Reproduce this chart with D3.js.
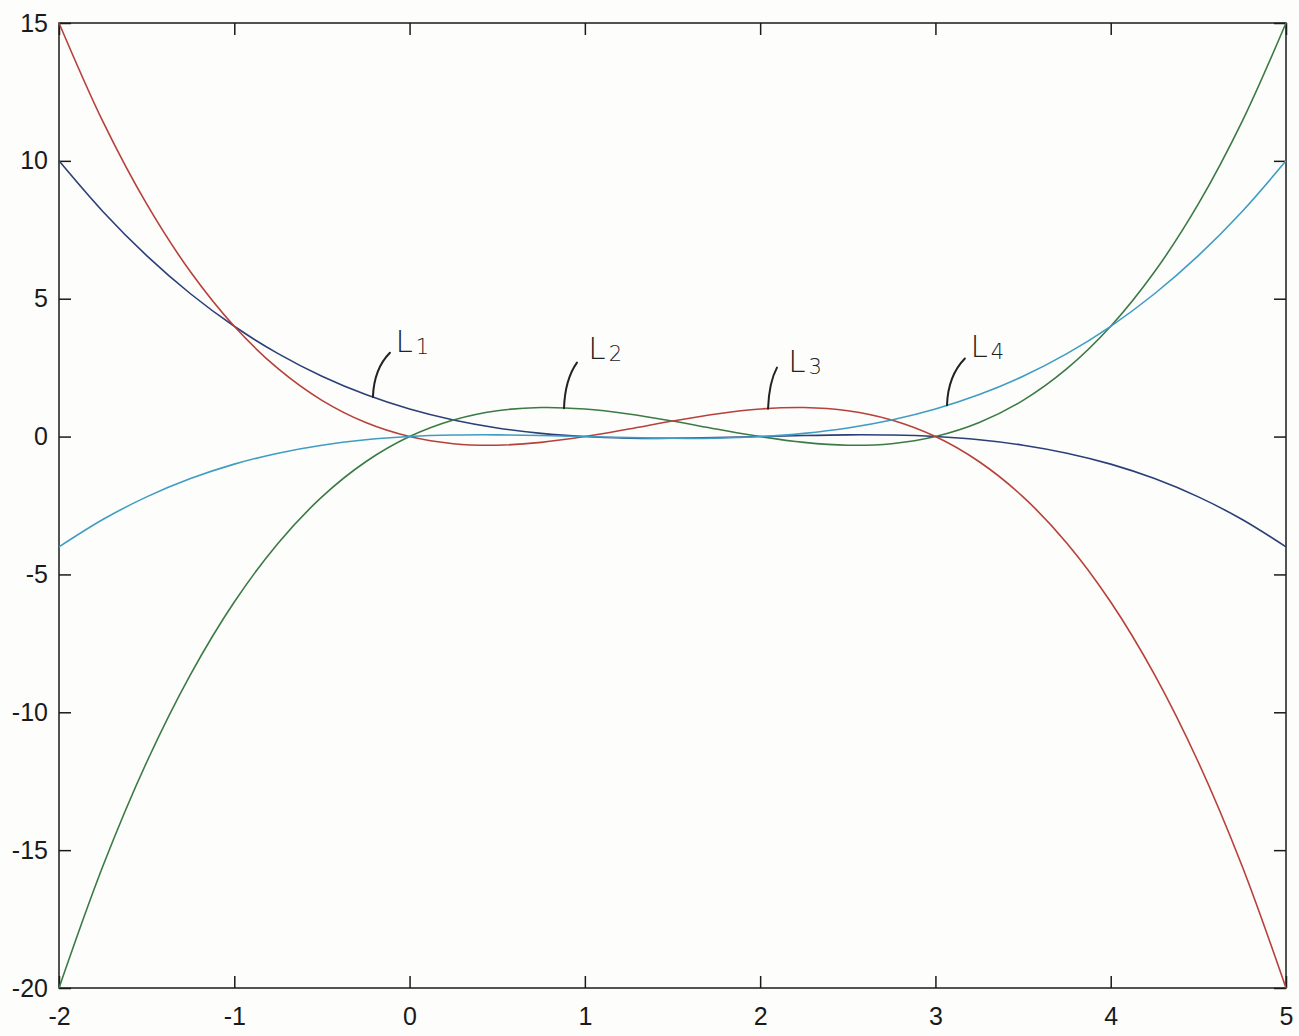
<!DOCTYPE html>
<html>
<head>
<meta charset="utf-8">
<script src="https://cdn.jsdelivr.net/npm/d3@7"></script>
<style>
  body { margin: 0; background: #fdfdfb; }
  .tick text { font-family: "Liberation Sans", Arial, sans-serif; font-size: 25px; fill: #1a1a1a; }
</style>
</head>
<body>
<div id="chart"></div>
<script>
var svgWidth = 1299;
var svgHeight = 1036;

var margin = { top: 23, right: 13, bottom: 48, left: 59 };
var width = svgWidth - margin.left - margin.right;
var height = svgHeight - margin.top - margin.bottom;

// sample points
var xs = [-2, -1.75, -1.5, -1.25, -1, -0.75, -0.5, -0.25, 0, 0.25, 0.5, 0.75, 1, 1.25, 1.5,
  1.75, 2, 2.25, 2.5, 2.75, 3, 3.25, 3.5, 3.75, 4, 4.25, 4.5, 4.75, 5];

var L1 = [10, 8.164, 6.5625, 5.180, 4, 3.008, 2.1875, 1.5234, 1, 0.6016, 0.3125, 0.1172, 0,
  -0.0547, -0.0625, -0.0391, 0, 0.0391, 0.0625, 0.0547, 0, -0.1172, -0.3125, -0.6016, -1,
  -1.5234, -2.1875, -3.008, -4];
var L2 = [-20, -15.586, -11.8125, -8.633, -6, -3.867, -2.1875, -0.914, 0, 0.6016, 0.9375,
  1.0547, 1, 0.8203, 0.5625, 0.2734, 0, -0.2109, -0.3125, -0.2578, 0, 0.5078, 1.3125, 2.4609,
  4, 5.9766, 8.4375, 11.4297, 15];
var L3 = [15, 11.4297, 8.4375, 5.9766, 4, 2.4609, 1.3125, 0.5078, 0, -0.2578, -0.3125, -0.2109,
  0, 0.2734, 0.5625, 0.8203, 1, 1.0547, 0.9375, 0.6016, 0, -0.914, -2.1875, -3.867, -6, -8.633,
  -11.8125, -15.586, -20];
var L4 = [-4, -3.008, -2.1875, -1.5234, -1, -0.6016, -0.3125, -0.1172, 0, 0.0547, 0.0625, 0.0391,
  0, -0.0391, -0.0625, -0.0547, 0, 0.1172, 0.3125, 0.6016, 1, 1.5234, 2.1875, 3.008, 4, 5.180,
  6.5625, 8.164, 10];

var seriesNames = ["L1", "L2", "L3", "L4"];
var seriesValues = [L1, L2, L3, L4];
var colors = ["#2b3f78", "#3c7a45", "#b8403a", "#3f9cc4"];

var xTicks = [-2, -1, 0, 1, 2, 3, 4, 5];
var yTicks = [-20, -15, -10, -5, 0, 5, 10, 15];

// handwritten labels: point on curve, end of leader, label spot (data units)
var labelCurveX = [-0.209, 0.881, 2.045, 3.066];
var leaderEnd = [[-0.112, 3.04], [0.955, 2.68], [2.096, 2.5], [3.168, 2.83]];
var labelPos = [[-0.08, 3.05], [1.02, 2.8], [2.16, 2.35], [3.2, 2.9]];

var svg = d3.select("#chart")
  .append("svg")
  .attr("width", svgWidth)
  .attr("height", svgHeight);

var chartGroup = svg.append("g")
  .attr("transform", `translate(${margin.left}, ${margin.top})`);

var xScale = d3.scaleLinear().domain([-2, 5]).range([0, width]);
var yScale = d3.scaleLinear().domain([-20, 15]).range([height, 0]);

// frame
chartGroup.append("rect")
  .attr("width", width)
  .attr("height", height)
  .attr("fill", "none")
  .attr("stroke", "#1a1a1a")
  .attr("stroke-width", 1.5);

// axes with inward ticks, MATLAB style
var fmt = d => String(d);
var bottomAxis = d3.axisBottom(xScale).tickValues(xTicks).tickFormat(fmt)
  .tickSizeInner(-12).tickSizeOuter(0).tickPadding(19);
var leftAxis = d3.axisLeft(yScale).tickValues(yTicks).tickFormat(fmt)
  .tickSizeInner(-12).tickSizeOuter(0).tickPadding(11);
var topAxis = d3.axisTop(xScale).tickValues(xTicks).tickSizeInner(-12).tickSizeOuter(0).tickFormat("");
var rightAxis = d3.axisRight(yScale).tickValues(yTicks).tickSizeInner(-12).tickSizeOuter(0).tickFormat("");

chartGroup.append("g").attr("transform", `translate(0, ${height})`).call(bottomAxis);
chartGroup.append("g").call(leftAxis);
chartGroup.append("g").call(topAxis);
chartGroup.append("g").attr("transform", `translate(${width}, 0)`).call(rightAxis);

chartGroup.selectAll(".domain").remove();
chartGroup.selectAll(".tick line").attr("stroke", "#1a1a1a").attr("stroke-width", 1.5);

// curves
var line = d3.line()
  .x(d => xScale(d[0]))
  .y(d => yScale(d[1]))
  .curve(d3.curveCatmullRom.alpha(0.5));

seriesValues.forEach(function(vals, i) {
  chartGroup.append("path")
    .datum(xs.map((x, j) => [x, vals[j]]))
    .attr("fill", "none")
    .attr("stroke", colors[i])
    .attr("stroke-width", 1.6)
    .attr("d", line);
});

// leaders and labels
function valueAt(vals, x) {
  var k = d3.bisectRight(xs, x) - 1;
  var t = (x - xs[k]) / (xs[k + 1] - xs[k]);
  return vals[k] + t * (vals[k + 1] - vals[k]);
}

seriesNames.forEach(function(name, i) {
  var x0 = xScale(labelCurveX[i]);
  var y0 = yScale(valueAt(seriesValues[i], labelCurveX[i]));
  var x1 = xScale(leaderEnd[i][0]);
  var y1 = yScale(leaderEnd[i][1]);
  chartGroup.append("path")
    .attr("d", `M${x0},${y0} Q${x0 + 1},${(y0 + y1) / 2 - 6} ${x1},${y1}`)
    .attr("fill", "none")
    .attr("stroke", "#222")
    .attr("stroke-width", 2)
    .attr("stroke-linecap", "round");

  var t = chartGroup.append("text")
    .attr("x", xScale(labelPos[i][0]))
    .attr("y", yScale(labelPos[i][1]))
    .style("font-family", "DejaVu Sans, sans-serif")
    .style("font-size", "31px")
    .style("font-weight", "300")
    .attr("fill", "#222");
  t.append("tspan").text(name[0]);
  t.append("tspan").attr("dy", 2).attr("dx", 3).style("font-size", "21px").text(name.slice(1));
});
</script>
</body>
</html>
